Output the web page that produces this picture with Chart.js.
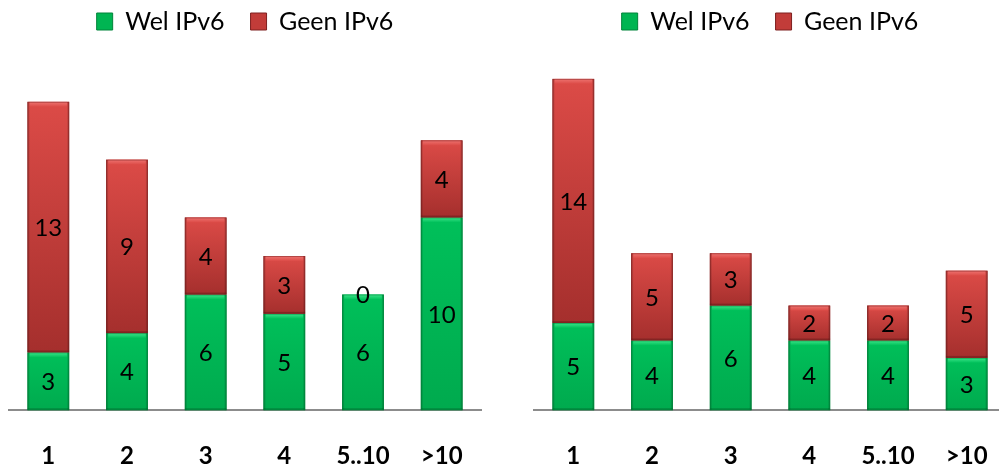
<!DOCTYPE html>
<html><head><meta charset="utf-8">
<script src="https://cdn.jsdelivr.net/npm/chart.js@4/dist/chart.umd.min.js"></script>
<style>
html,body{margin:0;padding:0;background:#fff;overflow:hidden;width:999px;height:468px;position:relative}
.c{position:absolute;top:-21px;height:516px;width:490px}
</style></head><body>
<div class="c" style="left:0"><canvas id="left"></canvas></div>
<div class="c" style="left:525px"><canvas id="right"></canvas></div>
<script>
const categories = ['1','2','3','4','5..10','>10'];
const seriesNames = ['Wel IPv6','Geen IPv6'];
const leftWel  = [3,4,6,5,6,10];
const leftGeen = [13,9,4,3,0,4];
const rightWel  = [5,4,6,4,4,3];
const rightGeen = [14,5,3,2,2,5];
const leftMax = 19;
const rightMax = 21;

const FONT = 'Lato, "Open Sans", sans-serif';
const palette = [
  {base:'#00B552', top:'#00C05A', bottom:'#00AA4E', hi:'#3DE58A', edge:'#00843A'},
  {base:'#C23C39', top:'#DC4B47', bottom:'#A52F2D', hi:'#EE7471', edge:'#7E2020'}
];

const bevel = {
  id:'bevel',
  afterDatasetsDraw(chart){
    const ctx = chart.ctx;
    chart.data.datasets.forEach((ds,i)=>{
      const meta = chart.getDatasetMeta(i);
      const p = palette[i];
      meta.data.forEach((el,j)=>{
        const top = Math.min(el.y, el.base), bot = Math.max(el.y, el.base);
        const h = bot - top;
        const x0 = el.x - el.width/2, w = el.width;
        if (h > 0.5) {
          ctx.save();
          const g = ctx.createLinearGradient(0, top, 0, bot);
          g.addColorStop(0, p.top); g.addColorStop(1, p.bottom);
          ctx.fillStyle = g;
          ctx.fillRect(x0, top, w, h);
          const hb = Math.min(5, h/3);
          const g2 = ctx.createLinearGradient(0, top, 0, top+hb);
          g2.addColorStop(0, p.hi); g2.addColorStop(1, p.top);
          ctx.fillStyle = g2;
          ctx.fillRect(x0+2, top, w-4, hb);
          const gs = ctx.createLinearGradient(x0, 0, x0+w, 0);
          gs.addColorStop(0, 'rgba(0,0,0,0.28)');
          gs.addColorStop(0.06, 'rgba(0,0,0,0)');
          gs.addColorStop(0.94, 'rgba(0,0,0,0)');
          gs.addColorStop(1, 'rgba(0,0,0,0.28)');
          ctx.fillStyle = gs;
          ctx.fillRect(x0, top, w, h);
          ctx.fillStyle = 'rgba(0,0,0,0.18)';
          ctx.fillRect(x0, bot-2, w, 2);
          ctx.strokeStyle = p.edge; ctx.lineWidth = 1;
          ctx.globalAlpha = 0.5;
          ctx.strokeRect(x0+0.5, top+0.5, w-1, h-1);
          ctx.restore();
        }
        const v = ds.data[j];
        ctx.save();
        ctx.fillStyle = '#000';
        ctx.font = '24px ' + FONT;
        ctx.textAlign = 'center';
        ctx.textBaseline = 'middle';
        ctx.fillText(String(v), el.x, (top+bot)/2 + 1);
        ctx.restore();
      });
    });
  }
};

function makeChart(id, wel, geen, maxV){
  return new Chart(document.getElementById(id), {
    type:'bar',
    data:{
      labels: categories,
      datasets:[
        {label: seriesNames[0], data: wel, backgroundColor: palette[0].base, borderColor: palette[0].edge, borderWidth: 1},
        {label: seriesNames[1], data: geen, backgroundColor: palette[1].base, borderColor: palette[1].edge, borderWidth: 1}
      ]
    },
    options:{
      responsive:true, maintainAspectRatio:false, animation:false,
      devicePixelRatio:1,
      layout:{padding:{left:9, right:9, top:4, bottom:0}},
      datasets:{bar:{categoryPercentage:1, barPercentage:0.53}},
      plugins:{
        legend:{
          position:'top', align:'center',
          labels:{font:{family:FONT, size:25}, color:'#000', boxWidth:16, boxHeight:17, padding:26}
        },
        tooltip:{enabled:false}
      },
      scales:{
        x:{stacked:true,
           grid:{display:false},
           border:{display:true, color:'#8c8c8c', width:2},
           ticks:{font:{family:FONT, size:24, weight:'bold'}, color:'#000', padding:24}
        },
        y:{stacked:true, display:false, min:0, max:maxV}
      }
    },
    plugins:[bevel]
  });
}
makeChart('left', leftWel, leftGeen, leftMax);
makeChart('right', rightWel, rightGeen, rightMax);
</script>
</body></html>
